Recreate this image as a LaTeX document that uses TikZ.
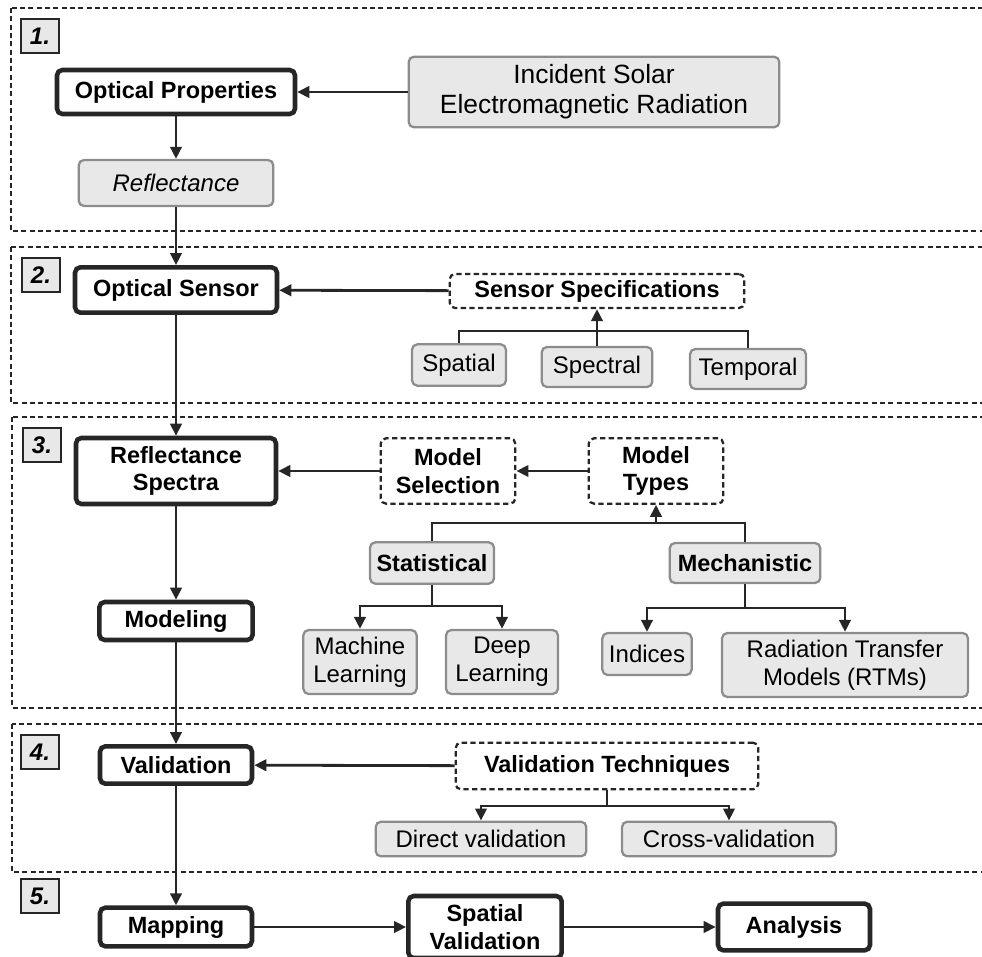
\documentclass[tikz,border=0pt]{standalone}
\usepackage{fontspec}
\setmainfont{Liberation Sans}
\usetikzlibrary{arrows.meta,positioning}
\definecolor{boxgray}{HTML}{E8E8E8}
\definecolor{edgegray}{HTML}{8C8C8C}
\definecolor{ink}{HTML}{262626}

\begin{document}
\begin{tikzpicture}[x=0.75pt, y=-0.75pt, >={Triangle[length=9pt,width=8.5pt]},
  mainbox/.style={draw=ink, line width=3.4pt, rounded corners=4pt, fill=white, align=center,
    inner sep=0pt, font=\bfseries\fontsize{17.6}{20.5}\selectfont},
  graybox/.style={draw=edgegray, line width=1.7pt, rounded corners=4pt, fill=boxgray, align=center,
    inner sep=0pt, font=\fontsize{18}{21}\selectfont},
  dashbox/.style={draw=ink, line width=1.7pt, dash pattern=on 4pt off 2.5pt, rounded corners=4pt,
    align=center, inner sep=0pt, font=\bfseries\fontsize{17.6}{20.5}\selectfont},
  tag/.style={draw=ink, line width=1.7pt, fill=boxgray, minimum width=28pt, minimum height=25.5pt,
    inner sep=0pt, font=\bfseries\itshape\fontsize{18}{20}\selectfont},
  section/.style={draw=ink, line width=1.7pt, dash pattern=on 3.75pt off 2.5pt},
  link/.style={draw=ink, line width=2.1pt}]
  \useasboundingbox (0,0) rectangle (982,957);

  \draw[section] (11,8) rectangle (995,231);
  \draw[section] (11,247) rectangle (995,403);
  \draw[section] (12,417) rectangle (995,708);
  \draw[section] (12,724) rectangle (995,872);

  \node[tag] (t1) at (40,36) {1.};
  \node[tag] (t2) at (41,275) {2.};
  \node[tag] (t3) at (42,445) {3.};
  \node[tag] (t4) at (40,752) {4.};
  \node[tag] (t5) at (40,896) {5.};

  % main column
  \node[mainbox, minimum width=178.5pt, minimum height=33pt] (optp) at (176,92) {Optical Properties};
  \node[graybox, minimum width=146pt, minimum height=34.5pt, font=\itshape\fontsize{18}{21}\selectfont] (refl) at (176,183) {Reflectance};
  \node[mainbox, minimum width=151.5pt, minimum height=34pt] (osens) at (176,290) {Optical Sensor};
  \node[mainbox, minimum width=150pt, minimum height=49.5pt] (rspec) at (176,471) {Reflectance\\Spectra};
  \node[mainbox, minimum width=115pt, minimum height=28.5pt] (model) at (176,621) {Modeling};
  \node[mainbox, minimum width=114pt, minimum height=28pt] (valid) at (176,765) {Validation};
  \node[mainbox, minimum width=114pt, minimum height=29pt] (mapp) at (176,927) {Mapping};
  \node[mainbox, minimum width=115pt, minimum height=46.5pt] (sval) at (485,927) {Spatial\\Validation};
  \node[mainbox, minimum width=114pt, minimum height=35pt] (anal) at (794,927) {Analysis};

  \node[graybox, minimum width=278pt, minimum height=53pt, font=\fontsize{19.8}{22.5}\selectfont] (inc) at (594,92) {Incident Solar\\Electromagnetic Radiation};

  \node[dashbox, minimum width=221pt, minimum height=25.5pt] (sspec) at (597,291) {Sensor Specifications};
  \node[graybox, minimum width=70.5pt, minimum height=31pt] (spat) at (459,365) {Spatial};
  \node[graybox, minimum width=83pt, minimum height=30pt] (spec) at (597,367) {Spectral};
  \node[graybox, minimum width=87pt, minimum height=30pt] (temp) at (748,369) {Temporal};

  \node[dashbox, minimum width=101pt, minimum height=49pt] (msel) at (448,471) {Model\\Selection};
  \node[dashbox, minimum width=101pt, minimum height=49pt] (mtyp) at (656,471) {Model\\Types};
  \node[graybox, minimum width=93pt, minimum height=31pt, font=\bfseries\fontsize{17.6}{20.5}\selectfont] (stat) at (432,563) {Statistical};
  \node[graybox, minimum width=113pt, minimum height=30pt, font=\bfseries\fontsize{17.6}{20.5}\selectfont] (mech) at (745,563) {Mechanistic};
  \node[graybox, minimum width=85pt, minimum height=48pt] (ml) at (360,662) {Machine\\Learning};
  \node[graybox, minimum width=84pt, minimum height=48pt] (dl) at (502,662) {Deep\\Learning};
  \node[graybox, minimum width=67pt, minimum height=31.5pt] (ind) at (647,654) {Indices};
  \node[graybox, minimum width=184.5pt, minimum height=48pt] (rtm) at (845,665) {Radiation Transfer\\Models (RTMs)};

  \node[dashbox, minimum width=227pt, minimum height=35pt] (vtech) at (607,766) {Validation Techniques};
  \node[graybox, minimum width=158pt, minimum height=26pt] (dval) at (481,839) {Direct validation};
  \node[graybox, minimum width=160.5pt, minimum height=26pt] (cval) at (729,839) {Cross-validation};

  \coordinate (sbar) at (597,331);
  \coordinate (mbar) at (656,523);
  \coordinate (stbar) at (432,606);
  \coordinate (mcbar) at (745,608);
  \coordinate (vbar) at (607,806);

  \draw[link,->] (optp) -- (refl);
  \draw[link,->] (refl) -- (osens);
  \draw[link,->] (osens) -- (rspec);
  \draw[link,->] (rspec) -- (model);
  \draw[link,->] (model) -- (valid);
  \draw[link,->] (valid) -- (mapp);
  \draw[link,->] (mapp) -- (sval);
  \draw[link,->] (sval) -- (anal);

  \draw[link,->] (inc) -- (optp);
  \draw[link,->] (sspec) -- (osens);
  \draw[link,->] (mtyp) -- (msel);
  \draw[link,->] (msel) -- (rspec);
  \draw[link,->] (vtech) -- (valid);

  \draw[link] (spat.north) |- (sbar) -| (temp.north);
  \draw[link,->] (spec) -- (sspec);
  \draw[link] (stat.north) |- (mbar) -| (mech.north);
  \draw[link,->] (mbar) -- (mtyp);
  \draw[link] (stat) -- (stbar);
  \draw[link,->] (stbar) -| (ml);
  \draw[link,->] (stbar) -| (dl);
  \draw[link] (mech) -- (mcbar);
  \draw[link,->] (mcbar) -| (ind);
  \draw[link,->] (mcbar) -| (rtm);
  \draw[link] (vtech) -- (vbar);
  \draw[link,->] (vbar) -| (dval);
  \draw[link,->] (vbar) -| (cval);
\end{tikzpicture}
\end{document}
